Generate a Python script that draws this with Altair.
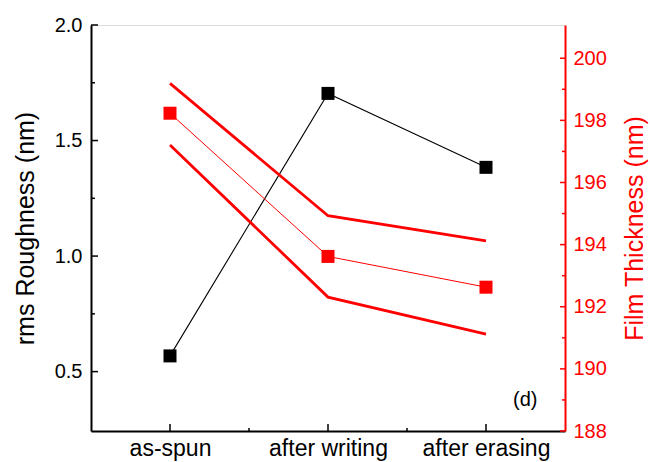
import altair as alt
import pandas as pd

# ---- data ----
stages = ["as-spun", "after writing", "after erasing"]
roughness = [0.568, 1.704, 1.384]            # rms roughness (nm), left axis
thickness = [198.23, 193.62, 192.63]         # film thickness (nm), right axis
thickness_upper = [199.19, 194.93, 194.12]   # upper bound line
thickness_lower = [197.21, 192.31, 191.12]   # lower bound line

left_major = [0.5, 1.0, 1.5, 2.0]
left_minor = [0.75, 1.25, 1.75]
right_major = [188, 190, 192, 194, 196, 198, 200]
right_minor = [189, 191, 193, 195, 197, 199]
minor_x_from = ["as-spun", "after writing"]
panel_label = "(d)"

left_domain = [0.243, 2.0]
right_domain = [188, 201.07]

W, H = 474, 406
RED = "#ff0000"
FONT = "Liberation Sans"

df = pd.DataFrame({
    "stage": stages,
    "roughness": roughness,
    "thickness": thickness,
    "upper": thickness_upper,
    "lower": thickness_lower,
})

x_axis = alt.Axis(title=None, labelAngle=0, ticks=False, domainColor="black",
                  domainWidth=2, labelFontSize=23, labelColor="black",
                  labelPadding=6, labelFont=FONT, grid=False)
x_enc = alt.X("stage:N", sort=stages,
              scale=alt.Scale(type="point", padding=0.5, domain=stages),
              axis=x_axis)

left_scale = alt.Scale(domain=left_domain, nice=False, zero=False)
left_axis = alt.Axis(title="rms Roughness (nm)", values=left_major, format=".1f",
                     ticks=False, domainColor="black", domainWidth=2,
                     labelFontSize=20, titleFontSize=25, titleFontWeight="normal",
                     labelPadding=9, titlePadding=16, grid=False,
                     labelColor="black", titleColor="black",
                     labelFont=FONT, titleFont=FONT)

right_scale = alt.Scale(domain=right_domain, nice=False, zero=False)
right_axis = alt.Axis(orient="right", title="Film Thickness (nm)",
                      values=right_major, format="d", ticks=False,
                      domainColor=RED, domainWidth=2, labelColor=RED,
                      titleColor=RED, labelFontSize=20, titleFontSize=25,
                      titleFontWeight="normal", titleAngle=270,
                      titleBaseline="top", labelPadding=8, titlePadding=16,
                      grid=False, labelFont=FONT, titleFont=FONT)

base = alt.Chart(df)

# ---- left (roughness) group ----
black_line = base.mark_line(color="black", strokeWidth=1.1).encode(
    x=x_enc, y=alt.Y("roughness:Q", scale=left_scale, axis=left_axis))
black_pts = base.mark_point(shape="square", filled=True, size=169,
                            color="black", opacity=1).encode(
    x=x_enc, y=alt.Y("roughness:Q", scale=left_scale, axis=left_axis))

lt_major = alt.Chart(pd.DataFrame({"roughness": left_major})).mark_rule(
    color="black", strokeWidth=1.5).encode(
    x=alt.value(0), x2=alt.value(7),
    y=alt.Y("roughness:Q", scale=left_scale, axis=left_axis))
lt_minor = alt.Chart(pd.DataFrame({"roughness": left_minor})).mark_rule(
    color="black", strokeWidth=1.5).encode(
    x=alt.value(0), x2=alt.value(4),
    y=alt.Y("roughness:Q", scale=left_scale, axis=left_axis))

bt_major = alt.Chart(pd.DataFrame({"stage": stages})).mark_rule(
    color="black", strokeWidth=1.5).encode(
    x=x_enc, y=alt.value(H), y2=alt.value(H - 7))
bt_minor = alt.Chart(pd.DataFrame({"stage": minor_x_from})).mark_rule(
    color="black", strokeWidth=1.5, xOffset=W / 6).encode(
    x=x_enc, y=alt.value(H), y2=alt.value(H - 3))

left = alt.layer(black_line, black_pts, lt_major, lt_minor, bt_major, bt_minor)

# ---- right (thickness) group ----
red_upper = base.mark_line(color=RED, strokeWidth=2.8).encode(
    x=x_enc, y=alt.Y("upper:Q", scale=right_scale, axis=right_axis))
red_lower = base.mark_line(color=RED, strokeWidth=2.8).encode(
    x=x_enc, y=alt.Y("lower:Q", scale=right_scale, axis=right_axis))
red_line = base.mark_line(color=RED, strokeWidth=1).encode(
    x=x_enc, y=alt.Y("thickness:Q", scale=right_scale, axis=right_axis))
red_pts = base.mark_point(shape="square", filled=True, size=169,
                          color=RED, opacity=1).encode(
    x=x_enc, y=alt.Y("thickness:Q", scale=right_scale, axis=right_axis))

rt_major = alt.Chart(pd.DataFrame({"thickness": right_major})).mark_rule(
    color=RED, strokeWidth=1.5).encode(
    x=alt.value(W), x2=alt.value(W - 5),
    y=alt.Y("thickness:Q", scale=right_scale, axis=right_axis))
rt_minor = alt.Chart(pd.DataFrame({"thickness": right_minor})).mark_rule(
    color=RED, strokeWidth=1.5).encode(
    x=alt.value(W), x2=alt.value(W - 3),
    y=alt.Y("thickness:Q", scale=right_scale, axis=right_axis))

label = alt.Chart(pd.DataFrame({"t": [panel_label]})).mark_text(
    align="left", baseline="middle", fontSize=20, font=FONT, color="black").encode(
    x=alt.value(422), y=alt.value(375), text="t:N")

right = alt.layer(red_upper, red_lower, red_line, red_pts, rt_major, rt_minor, label)

chart = alt.layer(left, right).resolve_scale(y="independent").properties(
    width=W, height=H,
    autosize=alt.AutoSizeParams(type="none"),
    padding={"left": 91, "top": 25, "right": 85, "bottom": 31},
).configure_view(stroke="black", strokeWidth=2).configure(background="white")

chart.save("out.html", embed_options={"renderer": "svg", "actions": False})
